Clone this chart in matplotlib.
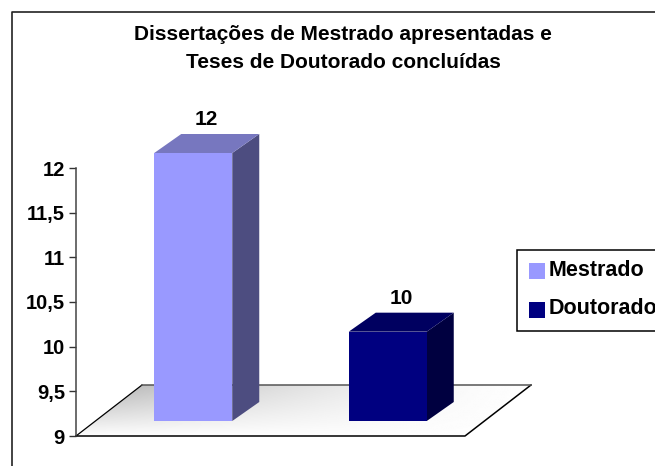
import matplotlib
matplotlib.use("Agg")
import matplotlib.pyplot as plt
from matplotlib.patches import Polygon, Rectangle
import numpy as np

categories = ["Mestrado", "Doutorado"]
values = [12, 10]
colors = ["#9999ff", "#000080"]
top_colors = ["#7777bf", "#000060"]
side_colors = ["#4d4d80", "#000040"]
yticks = [9, 9.5, 10, 10.5, 11, 11.5, 12]
yticklabels = ["9", "9,5", "10", "10,5", "11", "11,5", "12"]
title = "Dissertações de Mestrado apresentadas e\nTeses de Doutorado concluídas"

W, H = 655, 466
plt.rcParams["font.family"] = ["Liberation Sans", "DejaVu Sans"]
plt.rcParams["font.weight"] = "bold"
fig = plt.figure(figsize=(W / 100, H / 100), dpi=100)

# whole figure in pixels, the frame runs off to the right and the bottom
bg = fig.add_axes([0, 0, 1, 1])
bg.set_xlim(0, W)
bg.set_ylim(H, 0)
bg.axis("off")
bg.plot([11.5, 11.5, W], [H, 12, 12], color="#222222", lw=1.2)

# plot axes: front floor edge 76-465 px, y=9 at 436 px, y=12 at 168 px
ax = fig.add_axes([76 / W, 1 - 436 / H, 389 / W, 268 / H])
ax.set_xlim(-0.5, 1.5)
ax.set_ylim(9, 12)
ax.patch.set_alpha(0)
for s in ["top", "right", "bottom"]:
    ax.spines[s].set_visible(False)
ax.spines["left"].set_color("#444444")
ax.spines["left"].set_linewidth(1.1)
ax.set_xticks([])
ax.set_yticks(yticks)
ax.set_yticklabels(yticklabels, fontsize=14.5, fontweight="bold")
ax.tick_params(axis="y", length=5, width=1, color="#333333", pad=3)

px = 2 / 389  # data units per pixel, x
py = 3 / 268  # data units per pixel, y
floor_dx, floor_dy = 66 * px, 51 * py
x0, x1 = -0.5, 1.5

# floor with its soft shadow
floor = Polygon([(x0, 9), (x1, 9), (x1 + floor_dx, 9 + floor_dy), (x0 + floor_dx, 9 + floor_dy)],
                closed=True, fc="none", ec="none", clip_on=False)
ax.add_patch(floor)
gx, gy = np.meshgrid(np.linspace(0, 1, 300), np.linspace(0, 1, 100))
shade = 0.995 - 0.32 * (1 - gx) ** 1.5 * gy
img = ax.imshow(shade, cmap="gray", vmin=0, vmax=1, origin="lower", aspect="auto",
                extent=[x0, x1 + floor_dx, 9, 9 + floor_dy], zorder=1)
img.set_clip_box(fig.bbox)
img.set_clip_path(floor)
ax.plot([x0, x1, x1 + floor_dx], [9, 9, 9 + floor_dy], color="black", lw=1.1, clip_on=False, zorder=2)
ax.plot([x0, x0 + floor_dx], [9, 9 + floor_dy], color="black", lw=0.9, clip_on=False, zorder=2)
ax.plot([x0 + floor_dx, x1 + floor_dx], [9 + floor_dy, 9 + floor_dy], color="#555555", lw=1.1, clip_on=False, zorder=2)
ax.set_xlim(-0.5, 1.5)
ax.set_ylim(9, 12)

# bars stand a little way into the floor
shift_x, shift_y = 20 * px, 15 * py
depth_x, depth_y = 27 * px, 19 * py
bar_w = 78 * px
for i, v in enumerate(values):
    left = i + shift_x - bar_w / 2
    right = left + bar_w
    bottom = 9 + shift_y
    top = v + shift_y
    ax.add_patch(Polygon([(right, bottom), (right + depth_x, bottom + depth_y),
                          (right + depth_x, top + depth_y), (right, top)],
                         fc=side_colors[i], ec="none", clip_on=False, zorder=3))
    ax.add_patch(Polygon([(left, top), (right, top), (right + depth_x, top + depth_y),
                          (left + depth_x, top + depth_y)],
                         fc=top_colors[i], ec="none", clip_on=False, zorder=3))
    ax.add_patch(Rectangle((left, bottom), bar_w, v - 9, fc=colors[i], ec="none", clip_on=False, zorder=4))
    ax.text(i + shift_x + depth_x / 2, top + depth_y + 5 * py, str(v), ha="center", va="bottom",
            fontsize=15, fontweight="bold", clip_on=False)

# title
bg.text(343, 48.5, title, ha="center", va="center", fontsize=15, fontweight="bold", linespacing=1.55)

# legend, runs off the right edge like the original
bg.add_patch(Rectangle((517, 250), W, 81, fc="white", ec="black", lw=1.1, zorder=5))
for (name, c, sy, base) in zip(categories, colors, [263, 302], [276, 314]):
    bg.add_patch(Rectangle((529, sy), 16, 16, fc=c, ec="none", zorder=6))
    bg.text(549, base, name, ha="left", va="baseline", fontsize=15.5, fontweight="bold", zorder=6, clip_on=True)

fig.savefig("out.png", dpi=100)
